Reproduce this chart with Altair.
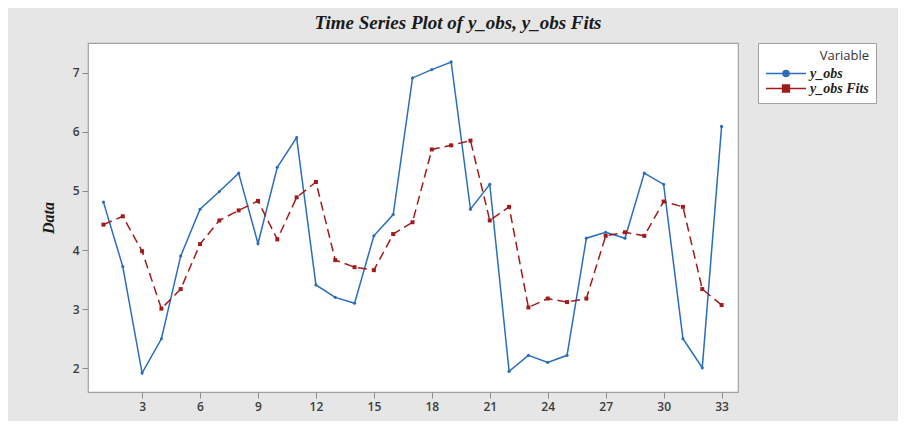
import altair as alt
import pandas as pd

t = list(range(1, 34))
y_obs = [4.81, 3.72, 1.92, 2.50, 3.90, 4.69, 4.99, 5.30, 4.11, 5.40, 5.90, 3.41, 3.20,
         3.10, 4.24, 4.60, 6.91, 7.05, 7.18, 4.69, 5.11, 1.95, 2.22, 2.10,
         2.22, 4.20, 4.30, 4.20, 5.30, 5.11, 2.50, 2.01, 6.09]
fits = [4.43, 4.57, 3.98, 3.01, 3.34, 4.10, 4.50, 4.67, 4.83, 4.18, 4.89, 5.15, 3.83,
        3.71, 3.66, 4.27, 4.47, 5.70, 5.77, 5.85, 4.50, 4.73, 3.03, 3.18,
        3.12, 3.18, 4.24, 4.30, 4.24, 4.82, 4.73, 3.34, 3.07]
names = ["y_obs", "y_obs Fits"]
colors = ["#2a6ebb", "#a11b1b"]
x_ticks = [3, 6, 9, 12, 15, 18, 21, 24, 27, 30, 33]
y_ticks = [2, 3, 4, 5, 6, 7]

df = pd.DataFrame({
    "t": t + t,
    "value": y_obs + fits,
    "Variable": [names[0]] * len(t) + [names[1]] * len(t),
})

circ = "M-1,0L1,0M-0.15,0A0.15,0.15,0,1,1,0.15,0A0.15,0.15,0,1,1,-0.15,0Z"
sq = "M-1,0L1,0M-0.17,-0.17L0.17,-0.17L0.17,0.17L-0.17,0.17Z"

color_scale = alt.Scale(domain=names, range=colors)

x_enc = alt.X("t:Q", scale=alt.Scale(domain=[0.2, 33.85], nice=False, zero=False),
              axis=alt.Axis(values=x_ticks, title=None, labelPadding=3))
y_enc = alt.Y("value:Q", scale=alt.Scale(domain=[1.6, 7.5], nice=False, zero=False),
              axis=alt.Axis(values=y_ticks, title="Data", titleFont="Liberation Serif",
                            titleFontSize=16, titleFontStyle="italic", titleFontWeight="bold",
                            titleColor="#1a1a1a", titlePadding=16, labelPadding=3))

legend = alt.Legend(
    title="Variable", orient="right", offset=20, padding=7,
    strokeColor="#a0a0a0", fillColor="white",
    titleFont="Open Sans", titleFontSize=13, titleFontWeight="normal", titleColor="#333333",
    titleAnchor="end", titlePadding=3,
    labelFont="Liberation Serif", labelFontSize=14, labelFontStyle="italic",
    labelFontWeight="bold", labelColor="#222222", labelOffset=3,
    symbolSize=1600, symbolStrokeWidth=1.5, clipHeight=15, rowPadding=0,
    symbolType={"expr": "datum.value === 'y_obs' ? '" + circ + "' : '" + sq + "'"},
    symbolFillColor={"expr": "scale('color', datum.value)"},
)

base = alt.Chart(df)

line_obs = base.mark_line(strokeWidth=1.5).encode(
    x=x_enc, y=y_enc,
    color=alt.Color("Variable:N", scale=color_scale, legend=legend),
).transform_filter(alt.datum.Variable == names[0])

line_fit = base.mark_line(strokeWidth=1.5, strokeDash=[9, 5]).encode(
    x=x_enc, y=y_enc,
    color=alt.Color("Variable:N", scale=color_scale, legend=None),
).transform_filter(alt.datum.Variable == names[1])

pts_obs = base.mark_point(filled=True, opacity=1, shape="circle", size=10).encode(
    x=x_enc, y=y_enc,
    color=alt.Color("Variable:N", scale=color_scale, legend=None),
).transform_filter(alt.datum.Variable == names[0])

pts_fit = base.mark_point(filled=True, opacity=1, shape="square", size=16).encode(
    x=x_enc, y=y_enc,
    color=alt.Color("Variable:N", scale=color_scale, legend=None),
).transform_filter(alt.datum.Variable == names[1])

chart = alt.layer(line_obs, line_fit, pts_obs, pts_fit).properties(
    width=650, height=349,
    title=alt.Title("Time Series Plot of y_obs, y_obs Fits", font="Liberation Serif", fontSize=19,
                    fontStyle="italic", fontWeight="bold", color="#1a1a1a", anchor="middle",
                    dx=45, offset=10),
    padding={"left": 80, "top": 35, "right": 160, "bottom": 29},
    autosize=alt.AutoSizeParams(type="none"),
    background="#e5e6e5",
).configure_view(
    stroke="#a0a0a0", strokeWidth=1.2, fill="white"
).configure_axis(
    domain=False, grid=False, tickColor="#8c8c8c", tickSize=6,
    labelFont="Open Sans", labelFontSize=12, labelFontWeight=600, labelColor="#3c3c3c",
)

chart.save("out.html", embed_options={"renderer": "svg", "actions": False})
